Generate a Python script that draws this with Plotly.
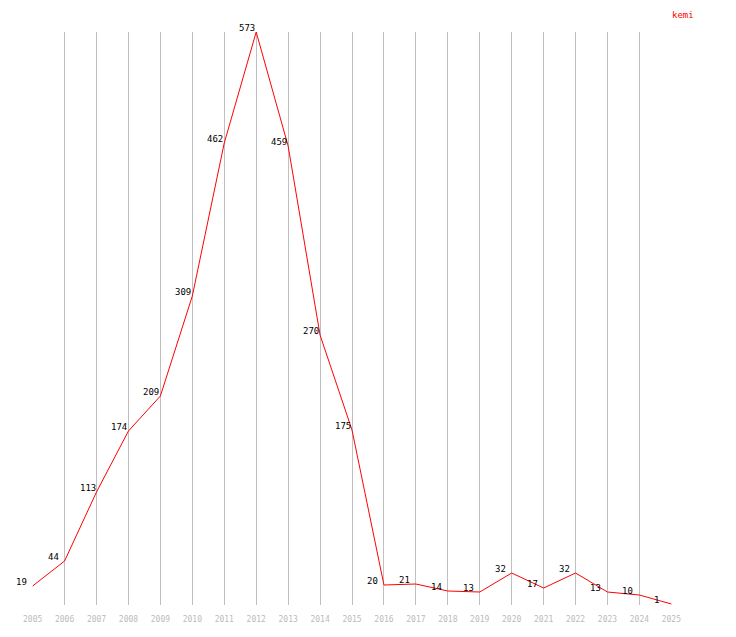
import plotly.graph_objects as go

years = list(range(2005, 2026))
values = [19, 44, 113, 174, 209, 309, 462, 573, 459, 270, 175, 20, 21, 14, 13, 32, 17, 32, 13, 10, 1]
series_name = "kemi"

fig = go.Figure()
fig.add_trace(go.Scatter(
    x=years, y=values, mode="lines",
    line=dict(color="#ff0000", width=1),
    cliponaxis=False, hoverinfo="skip", showlegend=False,
))

for yr, v in zip(years, values):
    fig.add_annotation(
        x=yr, y=v, text=str(v), showarrow=False,
        xanchor="left", yanchor="middle", xshift=-19, yshift=4,
        font=dict(family="DejaVu Sans Mono", size=9, color="#000000"),
    )

fig.add_annotation(
    text=series_name, xref="paper", yref="paper", x=1, y=1 + 24 / 573,
    xanchor="left", yanchor="top", showarrow=False, xshift=-2,
    font=dict(family="DejaVu Sans Mono", size=9, color="#ff0000"),
)

fig.update_layout(
    width=720, height=621,
    margin=dict(l=24, r=56, t=24, b=24),
    paper_bgcolor="white", plot_bgcolor="white",
    xaxis=dict(range=[2004.98, 2025.02], tickmode="array", tickvals=years,
               ticktext=[str(y) for y in years], automargin=False,
               showgrid=True, gridcolor="#c0c0c0", gridwidth=1,
               zeroline=False, showline=False,
               ticks="outside", ticklen=6, tickcolor="rgba(0,0,0,0)",
               tickfont=dict(family="DejaVu Sans Mono", size=8, color="#bbbbbb")),
    yaxis=dict(range=[0, 573], showgrid=False, zeroline=False, automargin=False,
               showline=False, showticklabels=False, ticks=""),
)

fig.write_html("out.html")
